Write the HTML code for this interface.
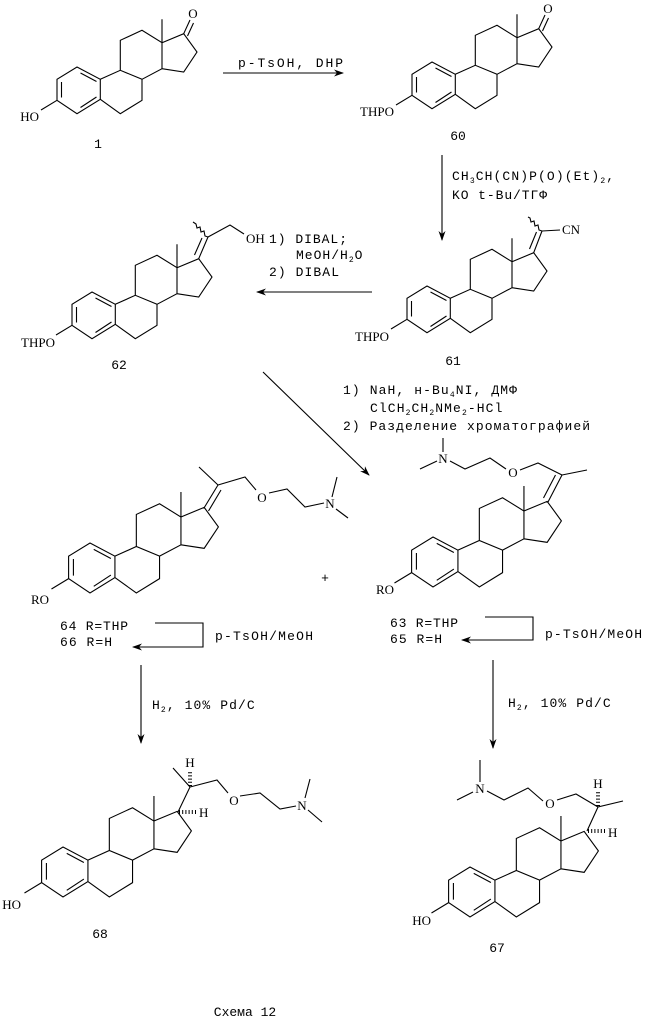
<!DOCTYPE html>
<html><head><meta charset="utf-8"><style>
html,body{margin:0;padding:0;background:#fff}
svg{display:block}
.m{font-family:"Liberation Mono",monospace;font-size:13px;fill:#000}
.s{font-family:"Liberation Serif",serif;font-size:13px;fill:#000}
.b{fill:none;stroke:#000;stroke-width:1.1}
</style></head><body>
<svg width="645" height="1023" viewBox="0 0 645 1023" xmlns="http://www.w3.org/2000/svg">
<defs>
<marker id="ah" markerWidth="10" markerHeight="7" refX="9" refY="3.5" orient="auto" markerUnits="userSpaceOnUse">
<path d="M0,0 L10,3.5 L0,7 L3,3.5 z" fill="#000"/></marker>
<g id="st">
<path class="b" vector-effect="non-scaling-stroke" d="M0,0 L23.3,12.3 L23.3,32.3 L0,46.7 L-20,33.3 L-20,12.3 Z M23.3,12.3 L43.3,3.3 L65,12.3 L65,33.3 L43.3,46.7 L23.3,32.3 M43.3,3.3 L43.3,-26.7 L65,-36.7 L85,-24.3 L85,1.7 L65,12.3 M85,-24.3 L106.7,-33.3 L120,-15 L106.7,5 L85,1.7 M85,-24.3 L85,-47.7 M3.5,6 L19.5,14.5 M-15.5,15 L-15.5,30.5 M19.5,30 L3.5,40.5 M-20,33.3 L-36,43"/>
</g>
</defs>

<use href="#st" transform="translate(77,67)"/>
<use href="#st" transform="translate(432,62)"/>
<use href="#st" transform="translate(427,286)"/>
<use href="#st" transform="translate(92,292)"/>
<use href="#st" transform="translate(433,537) scale(1.07)"/>
<use href="#st" transform="translate(90,543) scale(1.07)"/>
<use href="#st" transform="translate(63,847) scale(1.07)"/>
<use href="#st" transform="translate(470,867) scale(1.07)"/>

<path class="b" d="M183.7,33.7 L190,20 M187.5,36 L193.5,23"/>
<text class="s" x="193" y="18" text-anchor="middle">O</text>
<text class="s" x="39" y="121" text-anchor="end">HO</text>
<text class="m" x="98" y="148" text-anchor="middle">1</text>

<path class="b" d="M538.7,28.7 L545,15 M542.5,31 L548.5,18"/>
<text class="s" x="548" y="13" text-anchor="middle">O</text>
<text class="s" x="394" y="116" text-anchor="end">THPO</text>
<text class="m" x="458" y="140" text-anchor="middle">60</text>

<path class="b" d="M533.7,252.7 L542,231 M529.5,249 L536.5,232 M542,231 L560,230"/>
<polyline class="b" points="542,231 539,230 538,225 535,226 534,221 531,222 530,218 528,217"/>
<text class="s" x="562" y="234">CN</text>
<text class="s" x="389" y="341" text-anchor="end">THPO</text>
<text class="m" x="453" y="365" text-anchor="middle">61</text>

<path class="b" d="M198.7,258.7 L208,237 M194.5,255 L202,238 M208,237 L230,225 L244,234"/>
<polyline class="b" points="208,237 205,236 204,231 201,232 200,227 197,228 196,224 193,222"/>
<text class="s" x="246" y="243">OH</text>
<text class="s" x="55" y="347" text-anchor="end">THPO</text>
<text class="m" x="119" y="369" text-anchor="middle">62</text>

<line class="b" x1="223" y1="73" x2="343" y2="73" marker-end="url(#ah)"/>
<text class="m" x="238" y="67" textLength="105" lengthAdjust="spacing">p-TsOH, DHP</text>
<line class="b" x1="442" y1="155" x2="442" y2="240" marker-end="url(#ah)"/>
<text class="m" x="452" y="180" letter-spacing="1.1">CH<tspan font-size="8" dy="3">3</tspan><tspan dy="-3">CH(CN)P(O)(Et)</tspan><tspan font-size="8" dy="3">2</tspan><tspan dy="-3">,</tspan></text>
<text class="m" x="452" y="199" textLength="95" lengthAdjust="spacing">KO t-Bu/ТГФ</text>
<line class="b" x1="372" y1="292" x2="257" y2="292" marker-end="url(#ah)"/>
<text class="m" x="269" y="243" textLength="78" lengthAdjust="spacing">1) DIBAL;</text>
<text class="m" x="296" y="259" letter-spacing="1">MeOH/H<tspan font-size="8" dy="3">2</tspan><tspan dy="-3">O</tspan></text>
<text class="m" x="269" y="276" textLength="70" lengthAdjust="spacing">2) DIBAL</text>

<line class="b" x1="263" y1="372" x2="369" y2="475" marker-end="url(#ah)"/>
<text class="m" x="343" y="394" letter-spacing="1.1">1) NaH, н-Bu<tspan font-size="8" dy="3">4</tspan><tspan dy="-3">NI, ДМФ</tspan></text>
<text class="m" x="370" y="412" letter-spacing="1.1">ClCH<tspan font-size="8" dy="3">2</tspan><tspan dy="-3">CH</tspan><tspan font-size="8" dy="3">2</tspan><tspan dy="-3">NMe</tspan><tspan font-size="8" dy="3">2</tspan><tspan dy="-3">-HCl</tspan></text>
<text class="m" x="343" y="430" textLength="247" lengthAdjust="spacing">2) Разделение хроматографией</text>

<path class="b" d="M548,502 L562,475 M543.5,498 L555.5,475 M562,475 L587,470 M562,475 L538,463 L520,470 M506,469 L490,458 L465,469 L450,461 M443,452 L443,438 M437,461 L420,469"/>
<text class="s" x="513" y="477" text-anchor="middle">O</text>
<text class="s" x="443" y="463" text-anchor="middle">N</text>
<text class="s" x="394" y="594" text-anchor="end">RO</text>
<text class="m" x="390" y="627" textLength="68" lengthAdjust="spacing">63 R=THP</text>
<text class="m" x="390" y="643" textLength="52" lengthAdjust="spacing">65 R=H</text>
<polyline class="b" points="485,617 533,617 533,640 462,640" marker-end="url(#ah)"/>
<text class="m" x="545" y="638" textLength="97" lengthAdjust="spacing">p-TsOH/MeOH</text>

<path class="b" d="M204,508 L218,485 M208.5,511 L221,490 M218,485 L199,467 M218,485 L245,477 L256,490 M269,493 L287,489 L305,507 L324,503 M332,497 L337,477 M336,509 L348,518"/>
<text class="s" x="262" y="502" text-anchor="middle">O</text>
<text class="s" x="330" y="508" text-anchor="middle">N</text>
<text class="s" x="49" y="604" text-anchor="end">RO</text>
<text class="m" x="60" y="630" textLength="68" lengthAdjust="spacing">64 R=THP</text>
<text class="m" x="60" y="646" textLength="52" lengthAdjust="spacing">66 R=H</text>
<polyline class="b" points="155,623 203,623 203,647 133,647" marker-end="url(#ah)"/>
<text class="m" x="215" y="640" textLength="98" lengthAdjust="spacing">p-TsOH/MeOH</text>
<text class="m" x="325" y="582" text-anchor="middle">+</text>

<line class="b" x1="141" y1="665" x2="141" y2="743" marker-end="url(#ah)"/>
<text class="m" x="152" y="709" letter-spacing="1.1">H<tspan font-size="8" dy="3">2</tspan><tspan dy="-3">, 10% Pd/C</tspan></text>
<line class="b" x1="493" y1="660" x2="493" y2="748" marker-end="url(#ah)"/>
<text class="m" x="508" y="707" letter-spacing="1.1">H<tspan font-size="8" dy="3">2</tspan><tspan dy="-3">, 10% Pd/C</tspan></text>

<path class="b" d="M178,812 L190,787 L173,768 M190,787 L217,780 L228,793 M240,796 L260,793 L280,809 L296,806 M305,798 L310,779 M308,810 L322,822"/>
<line x1="190" y1="786" x2="190" y2="770" stroke="#000" stroke-width="4" stroke-dasharray="1,2.2"/>
<line x1="179" y1="812" x2="198" y2="812" stroke="#000" stroke-width="4" stroke-dasharray="1,2.2"/>
<text class="s" x="190" y="767" text-anchor="middle">H</text>
<text class="s" x="199" y="817">H</text>
<text class="s" x="234" y="805" text-anchor="middle">O</text>
<text class="s" x="302" y="810" text-anchor="middle">N</text>
<text class="s" x="21" y="909" text-anchor="end">HO</text>
<text class="m" x="100" y="938" text-anchor="middle">68</text>

<path class="b" d="M587,831 L598,807 L623,801 M598,807 L576,794 L557,800 M543,801 L528,788 L504,800 L487,791 M480,782 L480,760 M473,792 L457,800"/>
<line x1="598" y1="806" x2="598" y2="790" stroke="#000" stroke-width="4" stroke-dasharray="1,2.2"/>
<line x1="588" y1="831" x2="607" y2="831" stroke="#000" stroke-width="4" stroke-dasharray="1,2.2"/>
<text class="s" x="598" y="788" text-anchor="middle">H</text>
<text class="s" x="608" y="837">H</text>
<text class="s" x="550" y="808" text-anchor="middle">O</text>
<text class="s" x="480" y="793" text-anchor="middle">N</text>
<text class="s" x="431" y="925" text-anchor="end">HO</text>
<text class="m" x="497" y="952" text-anchor="middle">67</text>

<text class="m" x="245" y="1016" text-anchor="middle">Схема 12</text>
</svg>
</body></html>
